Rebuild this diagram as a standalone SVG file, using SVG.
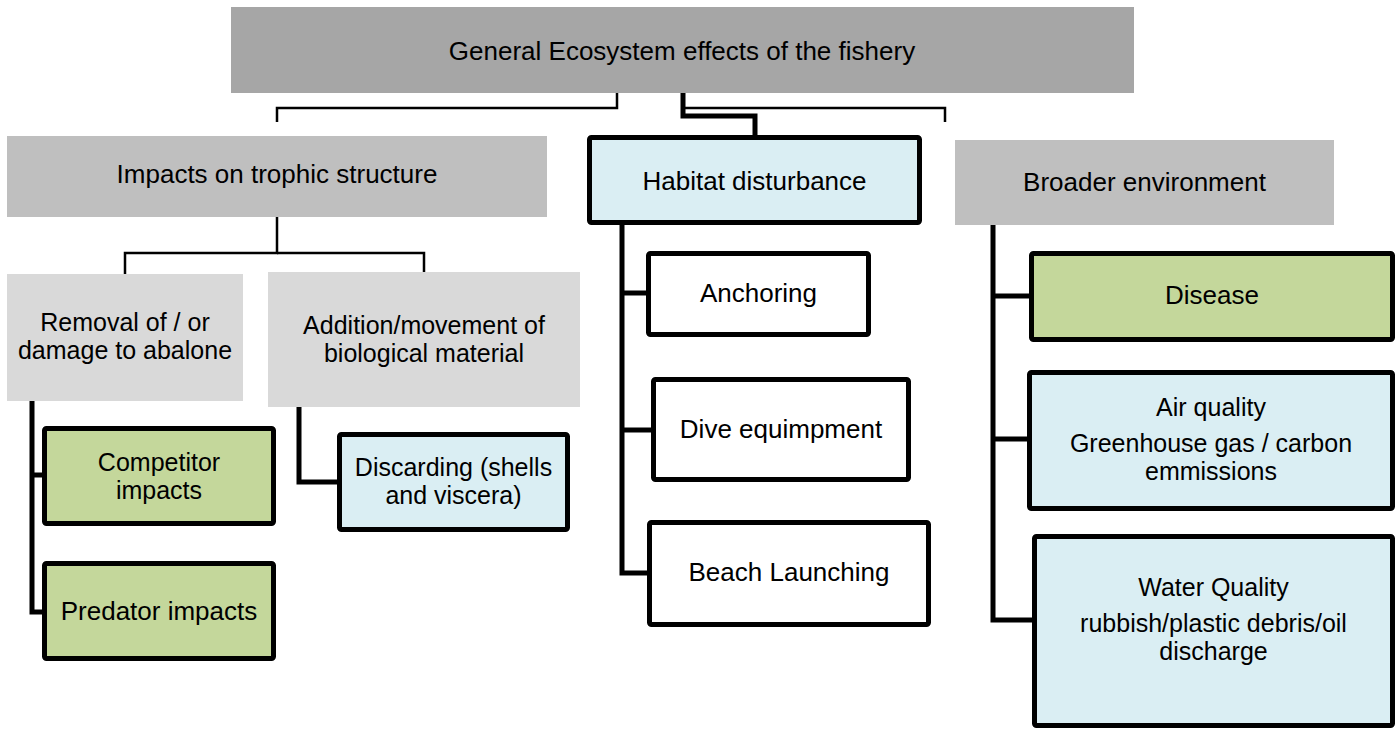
<svg xmlns="http://www.w3.org/2000/svg" width="1397" height="730" viewBox="0 0 1397 730">
<style>
  text { font-family: "Liberation Sans", Arial, sans-serif; font-size: 26px; fill: #000; text-anchor: middle; }
  text.ml { font-size: 25px; }
  .flat { stroke: none; }
  .g1 { fill: #a6a6a6; }
  .g2 { fill: #bfbfbf; }
  .g3 { fill: #d9d9d9; }
  .bx { stroke: #000; stroke-width: 5; rx: 2; }
  .green { fill: #c4d79b; }
  .blue { fill: #daeef3; }
  .white { fill: #ffffff; }
  .thin { fill: none; stroke: #000; stroke-width: 2.5; }
  .thick { fill: none; stroke: #000; stroke-width: 5; }
</style>
<rect width="1397" height="730" fill="#ffffff"/>
<g id="connectors">
  <path class="thin" d="M617,93 V108 H277 V122"/>
  <path class="thin" d="M683,108 H945 V122"/>
  <path class="thin" d="M277,217 V253 H125 V274"/>
  <path class="thin" d="M277,253 H424 V272"/>
  <path class="thick" d="M683,93 V116 H755 V135"/>
  <path class="thick" d="M32,401 V612 H44"/>
  <path class="thick" d="M32,475 H44"/>
  <path class="thick" d="M299,407 V482 H339"/>
  <path class="thick" d="M622,225 V573 H649"/>
  <path class="thick" d="M622,293 H648"/>
  <path class="thick" d="M622,430 H653"/>
  <path class="thick" d="M993,225 V620 H1034"/>
  <path class="thick" d="M993,296 H1031"/>
  <path class="thick" d="M993,439 H1029"/>
</g>
<g id="node-general">
  <rect class="flat g1" x="231" y="7" width="903" height="86"/>
  <text x="682" y="60">General Ecosystem effects of the fishery</text>
</g>
<g id="node-trophic">
  <rect class="flat g2" x="7" y="136" width="540" height="81"/>
  <text x="277" y="183">Impacts on trophic structure</text>
</g>
<g id="node-habitat">
  <rect class="bx blue" x="589.5" y="137.5" width="330" height="85"/>
  <text x="754.5" y="190">Habitat disturbance</text>
</g>
<g id="node-broader">
  <rect class="flat g2" x="955" y="140" width="379" height="85"/>
  <text x="1144.5" y="191">Broader environment</text>
</g>
<g id="node-removal">
  <rect class="flat g3" x="7" y="274" width="236" height="127"/>
  <text class="ml" x="125" y="331">Removal of / or<tspan x="125" dy="28">damage to abalone</tspan></text>
</g>
<g id="node-addition">
  <rect class="flat g3" x="268" y="272" width="312" height="135"/>
  <text class="ml" x="424" y="334">Addition/movement of<tspan x="424" dy="28">biological material</tspan></text>
</g>
<g id="node-competitor">
  <rect class="bx green" x="44.5" y="428.5" width="229" height="95"/>
  <text class="ml" x="159" y="471">Competitor<tspan x="159" dy="28">impacts</tspan></text>
</g>
<g id="node-predator">
  <rect class="bx green" x="44.5" y="563.5" width="229" height="95"/>
  <text x="159" y="620">Predator impacts</text>
</g>
<g id="node-discarding">
  <rect class="bx blue" x="339.5" y="434.5" width="228" height="95"/>
  <text class="ml" x="453.5" y="476">Discarding (shells<tspan x="453.5" dy="28">and viscera)</tspan></text>
</g>
<g id="node-anchoring">
  <rect class="bx white" x="648.5" y="253.5" width="220" height="81"/>
  <text x="758.5" y="302">Anchoring</text>
</g>
<g id="node-dive">
  <rect class="bx white" x="653.5" y="379.5" width="255" height="100"/>
  <text x="781" y="438">Dive equimpment</text>
</g>
<g id="node-beach">
  <rect class="bx white" x="649.5" y="522.5" width="279" height="102"/>
  <text x="789" y="581">Beach Launching</text>
</g>
<g id="node-disease">
  <rect class="bx green" x="1031.5" y="253.5" width="361" height="86"/>
  <text x="1212" y="304">Disease</text>
</g>
<g id="node-air">
  <rect class="bx blue" x="1029.5" y="372.5" width="363" height="136"/>
  <text class="ml" x="1211" y="416">Air quality<tspan x="1211" dy="36">Greenhouse gas / carbon</tspan><tspan x="1211" dy="28">emmissions</tspan></text>
</g>
<g id="node-water">
  <rect class="bx blue" x="1034.5" y="536.5" width="358" height="189"/>
  <text class="ml" x="1213.5" y="596">Water Quality<tspan x="1213.5" dy="36">rubbish/plastic debris/oil</tspan><tspan x="1213.5" dy="28">discharge</tspan></text>
</g>
</svg>
